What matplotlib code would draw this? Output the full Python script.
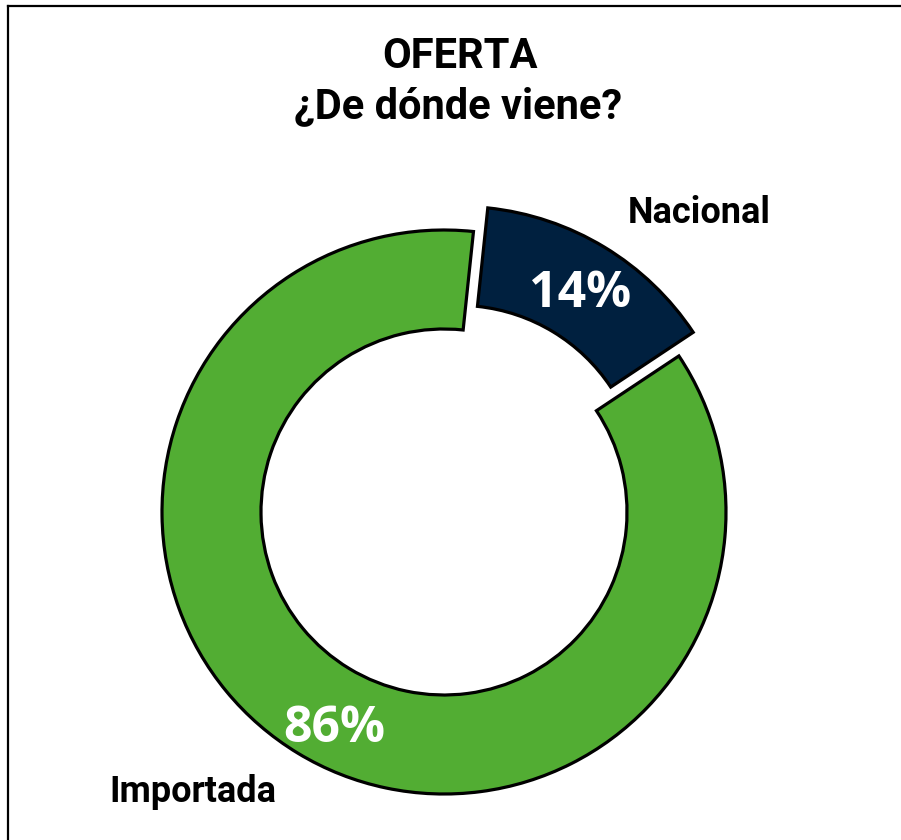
import matplotlib
matplotlib.use("Agg")
import matplotlib.pyplot as plt
from matplotlib.lines import Line2D

# Data
categories = ["Nacional", "Importada"]
values = [14, 86]
pct_labels = ["14%", "86%"]
colors = ["#00203F", "#52AD33"]
title_lines = ["OFERTA", "¿De dónde viene?"]

W, H = 901, 840
fig = plt.figure(figsize=(W / 100, H / 100), dpi=100)
fig.patch.set_facecolor("white")
ax = fig.add_axes([0, 0, 1, 1])

cx, cy = 444, H - 512
R = 282
ring = 99

wedges, _ = ax.pie(
    values,
    colors=colors,
    startangle=84,
    counterclock=False,
    explode=[0.098 * R, 0],
    radius=R,
    center=(cx, cy),
    wedgeprops=dict(width=ring, edgecolor="black", linewidth=2.3),
)
ax.set_xlim(0, W)
ax.set_ylim(0, H)
ax.set_aspect("equal")
ax.axis("off")

# Percent labels
ax.text(580, H - 307, pct_labels[0], color="white", fontsize=36, fontweight="bold",
        family=["Open Sans", "DejaVu Sans"], ha="center", va="baseline", zorder=5)
ax.text(334, H - 742, pct_labels[1], color="white", fontsize=36, fontweight="bold",
        family=["Open Sans", "DejaVu Sans"], ha="center", va="baseline", zorder=5)

# Category labels
ax.text(699, H - 223, categories[0], color="black", fontsize=26, fontweight="bold",
        family=["Roboto", "DejaVu Sans"], ha="center", va="baseline")
ax.text(193, H - 802, categories[1], color="black", fontsize=26, fontweight="bold",
        family=["Roboto", "DejaVu Sans"], ha="center", va="baseline")

# Title
ax.text(460, H - 68, title_lines[0], color="black", fontsize=30, fontweight="bold",
        family=["Roboto", "DejaVu Sans"], ha="center", va="baseline")
ax.text(458, H - 118, title_lines[1], color="black", fontsize=30, fontweight="bold",
        family=["Roboto", "DejaVu Sans"], ha="center", va="baseline")

# Frame (top and left edges visible)
fig.add_artist(Line2D([8 / W, 1.0], [1 - 6 / H, 1 - 6 / H], transform=fig.transFigure,
                      color="black", linewidth=1.6))
fig.add_artist(Line2D([8 / W, 8 / W], [0.0, 1 - 6 / H], transform=fig.transFigure,
                      color="black", linewidth=1.6))

fig.savefig("out.png", dpi=100, facecolor="white")
